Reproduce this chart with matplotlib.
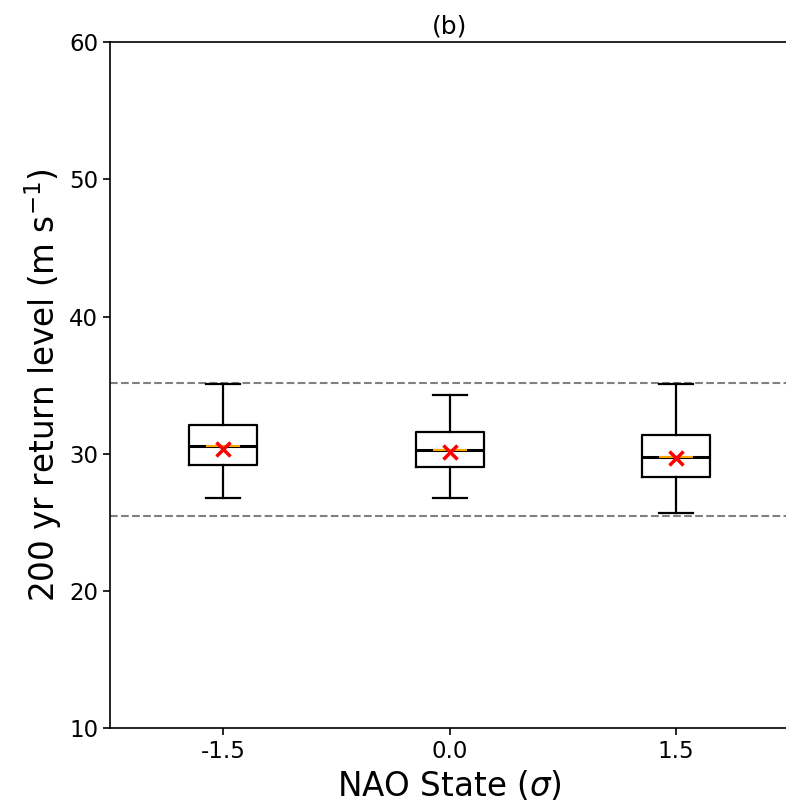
import matplotlib
matplotlib.use("Agg")
import matplotlib.pyplot as plt

# Valeurs (niveau de retour 200 ans, m/s)
nao_states = [-1.5, 0.0, 1.5]
nao_labels = ["-1.5", "0.0", "1.5"]
whisker_low = [26.8, 26.8, 25.7]
q1 = [29.2, 29.0, 28.3]
median = [30.6, 30.3, 29.8]
q3 = [32.1, 31.6, 31.4]
whisker_high = [35.1, 34.3, 35.1]
mean = [30.35, 30.1, 29.7]
ref_lines = [35.15, 25.45]

stats = []
for i in range(len(nao_states)):
    stats.append({
        "whislo": whisker_low[i], "q1": q1[i], "med": median[i],
        "q3": q3[i], "whishi": whisker_high[i], "mean": mean[i], "fliers": [],
    })

fig = plt.figure(figsize=(7.86, 8.10), dpi=100)
ax = fig.add_axes([0.14, 0.101, 0.864, 0.847])

for y in ref_lines:
    ax.axhline(y, color="grey", linestyle="--", linewidth=1.5, zorder=1)

lw = 1.6
ax.bxp(stats, positions=nao_states, widths=0.45, showmeans=False,
       boxprops=dict(color="black", linewidth=lw),
       whiskerprops=dict(color="black", linewidth=lw),
       capprops=dict(color="black", linewidth=lw),
       medianprops=dict(color="black", linewidth=2.2))
# trait orange au centre de la médiane
ax.bxp(stats, positions=nao_states, widths=0.225, showbox=False,
       showcaps=False, showmeans=False,
       whiskerprops=dict(linewidth=0),
       medianprops=dict(color="orange", linewidth=1.5))
ax.plot(nao_states, mean, linestyle="none", marker="x", color="red",
        markersize=10, markeredgewidth=2.5, zorder=5)

ax.set_xlim(-2.25, 2.25)
ax.set_ylim(10, 60)
ax.set_xticks(nao_states)
ax.set_xticklabels(nao_labels)
ax.set_yticks([10, 20, 30, 40, 50, 60])
ax.tick_params(labelsize=16.5, width=1.2, length=5)
for s in ax.spines.values():
    s.set_linewidth(1.2)

ax.set_title("(b)", fontsize=18)
ax.set_xlabel(r"NAO State ($\sigma$)", fontsize=23.5)
ax.set_ylabel(r"200 yr return level (m s$^{-1}$)", fontsize=23.5)

plt.savefig("out.png", dpi=100)
